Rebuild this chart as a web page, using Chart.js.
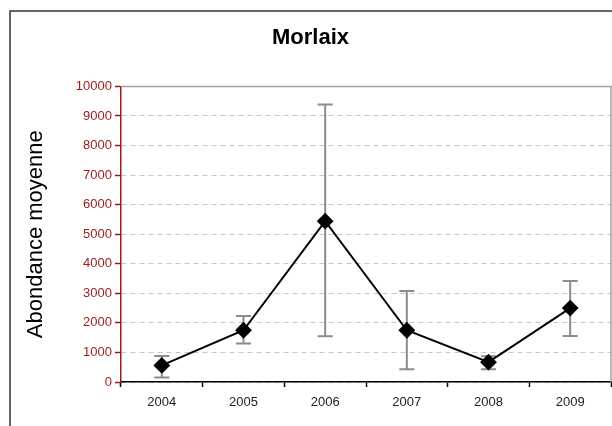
<!DOCTYPE html>
<html>
<head>
<meta charset="utf-8">
<script src="https://cdn.jsdelivr.net/npm/chart.js@4.4.1/dist/chart.umd.min.js"></script>
<style>
  html, body { margin: 0; padding: 0; background: #ffffff; }
  #wrap { position: relative; width: 612px; height: 426px; }
</style>
</head>
<body>
<div id="wrap"><canvas id="c" width="612" height="426"></canvas></div>
<script>
// ---- data ----
const years = ['2004', '2005', '2006', '2007', '2008', '2009'];
const meanAbundance = [560, 1750, 5440, 1750, 670, 2500];
const errorLow = [150, 1300, 1550, 430, 430, 1560];
const errorHigh = [880, 2230, 9390, 3080, 870, 3420];
const yTicks = [0, 1000, 2000, 3000, 4000, 5000, 6000, 7000, 8000, 9000, 10000];

const FONT = "'Liberation Sans', Arial, sans-serif";
const RED = '#9a1c1c';

const framePlugin = {
  id: 'frame',
  beforeDraw(chart) {
    const ctx = chart.ctx;
    ctx.save();
    ctx.fillStyle = '#ffffff';
    ctx.fillRect(0, 0, chart.width, chart.height);
    ctx.strokeStyle = '#333333';
    ctx.lineWidth = 1.5;
    ctx.strokeRect(10, 11, 700, 500);
    ctx.restore();
  },
  beforeDatasetsDraw(chart) {
    const ctx = chart.ctx;
    const a = chart.chartArea;
    ctx.save();
    ctx.strokeStyle = '#a0a0a0';
    ctx.lineWidth = 1.5;
    ctx.beginPath();
    ctx.moveTo(a.left, a.top);
    ctx.lineTo(a.right, a.top);
    ctx.lineTo(a.right, a.bottom);
    ctx.stroke();
    // error bars
    const xs = chart.scales.x, ys = chart.scales.y;
    ctx.strokeStyle = '#8c8c8c';
    ctx.lineWidth = 2;
    for (let i = 0; i < years.length; i++) {
      const x = xs.getPixelForValue(i);
      const y1 = ys.getPixelForValue(errorLow[i]);
      const y2 = ys.getPixelForValue(errorHigh[i]);
      ctx.beginPath();
      ctx.moveTo(x, y1); ctx.lineTo(x, y2);
      ctx.moveTo(x - 7.5, y1); ctx.lineTo(x + 7.5, y1);
      ctx.moveTo(x - 7.5, y2); ctx.lineTo(x + 7.5, y2);
      ctx.stroke();
    }
    ctx.restore();
  }
};

new Chart(document.getElementById('c'), {
  type: 'line',
  data: {
    labels: years,
    datasets: [{
      data: meanAbundance,
      borderColor: '#000000',
      borderWidth: 2,
      backgroundColor: '#000000',
      pointStyle: 'rectRot',
      pointRadius: 7,
      pointHoverRadius: 7,
      pointBackgroundColor: '#000000',
      pointBorderColor: '#000000',
      tension: 0,
      clip: false
    }]
  },
  options: {
    responsive: false,
    animation: false,
    events: [],
    layout: { autoPadding: false, padding: { left: 10, right: 1, top: 0, bottom: 0 } },
    plugins: {
      legend: { display: false },
      tooltip: { enabled: false },
      title: {
        display: true,
        text: 'Morlaix',
        color: '#000000',
        font: { family: FONT, size: 22, weight: 'bold', lineHeight: 1.2 },
        padding: { top: 25, bottom: 35 }
      }
    },
    scales: {
      x: {
        type: 'category',
        offset: true,
        afterFit(scale) { scale.height = 44; scale.paddingLeft = 0; scale.paddingRight = 0; },
        border: { display: true, color: '#000000', width: 1.5 },
        grid: {
          display: true,
          offset: true,
          drawOnChartArea: false,
          drawTicks: true,
          tickLength: 5,
          tickColor: '#000000',
          tickWidth: 1.5
        },
        ticks: {
          color: '#222222',
          font: { family: FONT, size: 13 },
          padding: 8,
          maxRotation: 0
        }
      },
      y: {
        min: 0,
        max: 10000,
        afterFit(scale) { scale.width = 111; },
        afterBuildTicks(scale) { scale.ticks = yTicks.map(v => ({ value: v })); },
        border: { display: true, color: RED, width: 1.5, dash: [5, 4] },
        grid: {
          color: '#c8c8c8',
          lineWidth: 1,
          drawTicks: true,
          tickLength: 6,
          tickColor: RED,
          tickWidth: 1.5,
          tickBorderDash: [1, 0]
        },
        ticks: {
          color: RED,
          font: { family: FONT, size: 13 },
          padding: 3,
          callback: (v) => String(v)
        },
        title: {
          display: true,
          text: 'Abondance moyenne',
          color: '#000000',
          font: { family: FONT, size: 22, lineHeight: 1.2 },
          padding: { top: 13, bottom: 0 }
        }
      }
    }
  },
  plugins: [framePlugin]
});
</script>
</body>
</html>
